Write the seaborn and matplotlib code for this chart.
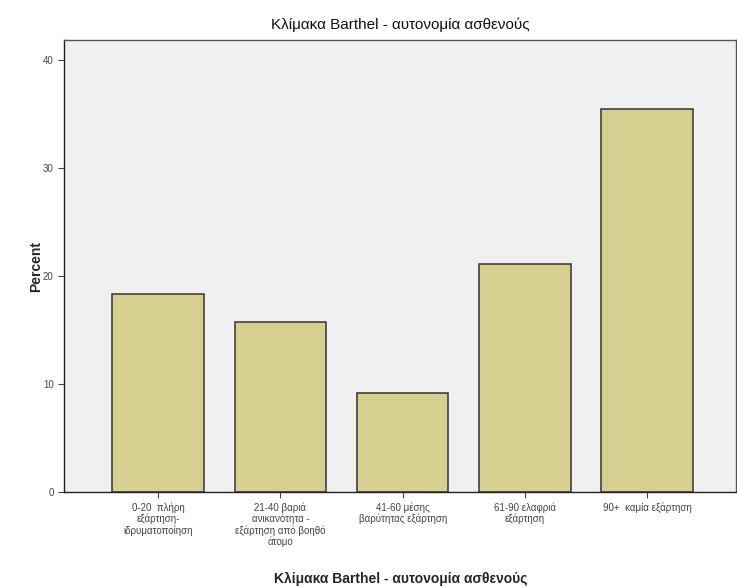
import seaborn as sns
import pandas as pd
import matplotlib.pyplot as plt

categories = [
    '0-20  πλήρη\nεξάρτηση-\nιδρυματοποίηση',
    '21-40 βαριά\nανικανότητα -\nεξάρτηση από βοηθό\nάτομο',
    '41-60 μέσης\nβαρύτητας εξάρτηση',
    '61-90 ελαφριά\nεξάρτηση',
    '90+  καμία εξάρτηση',
]
percent = [18.4, 15.8, 9.2, 21.1, 35.5]
yticks = [0, 10, 20, 30, 40]

data = pd.DataFrame({'category': categories, 'percent': percent})

sns.set_style('ticks')
plt.rcParams['font.family'] = ['Liberation Sans', 'DejaVu Sans']

fig = plt.figure(figsize=(7.37, 5.88), dpi=100)
ax = fig.add_axes([0.087, 0.163, 0.912, 0.769])
ax.set_facecolor('#f0f0f0')

sns.barplot(x='category', y='percent', data=data, ax=ax, color='#d6cf8f',
            saturation=1, width=0.75, edgecolor='#333333', linewidth=1.1)

ax.set_xlim(-0.77, 4.73)
ax.set_ylim(0, 41.9)
ax.set_yticks(yticks)
ax.tick_params(axis='both', labelsize=7, colors='#444444', length=4, width=0.8)
for lbl in ax.get_xticklabels():
    lbl.set_linespacing(1.1)
for s in ax.spines.values():
    s.set_visible(True)
    s.set_color('#555555')
    s.set_linewidth(1.0)
ax.spines['left'].set_color('#222222')
ax.spines['bottom'].set_color('#222222')

ax.set_ylabel('Percent', fontsize=10, fontweight='bold', labelpad=0)
ax.set_xlabel('Κλίμακα Barthel - αυτονομία ασθενούς', fontsize=10,
              fontweight='bold', labelpad=18)
ax.set_title('Κλίμακα Barthel - αυτονομία ασθενούς', fontsize=11, pad=8,
             color='#111111')

plt.savefig('out.png', dpi=100)
